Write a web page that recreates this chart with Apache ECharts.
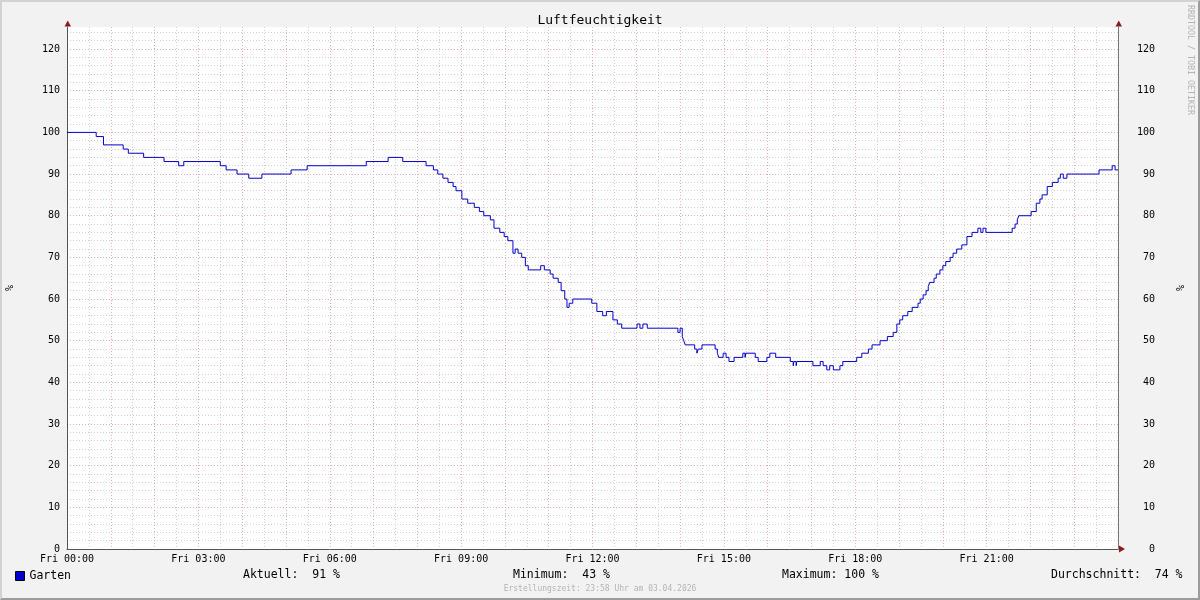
<!DOCTYPE html>
<html>
<head>
<meta charset="utf-8">
<script src="https://cdn.jsdelivr.net/npm/echarts@6/dist/echarts.min.js"></script>
<style>
html,body{margin:0;padding:0;background:#f2f2f2;}
#wrap{position:relative;width:1200px;height:600px;}
#chart{position:absolute;left:0;top:0;width:1200px;height:600px;}
#frame{position:absolute;left:0;top:0;width:1200px;height:600px;box-sizing:border-box;border-style:solid;border-width:2px;border-color:#d2d2d2 #9c9c9c #9c9c9c #d2d2d2;pointer-events:none;}
</style>
</head>
<body>
<div id="wrap"><div id="chart"></div><div id="frame"></div></div>
<script>
// minutes since Fri 00:00 where a new reading starts
const changeMinutes = [
  0, 40, 50, 77, 84, 105, 133, 153, 160, 210, 218, 233, 249, 267, 307, 329, 410, 440, 460, 492,
  502, 508, 515, 522, 529, 533, 541, 549, 558, 565, 571, 580, 585, 593, 599, 604, 611, 614, 618, 623,
  628, 632, 649, 654, 662, 666, 673, 677, 682, 685, 688, 693, 719, 726, 734, 739, 748, 754, 760, 781,
  785, 789, 795, 837, 840, 843, 845, 847, 860, 863, 865, 870, 888, 891, 893, 899, 903, 907, 914, 926,
  929, 930, 943, 947, 959, 963, 971, 991, 995, 996, 999, 1000, 1022, 1032, 1036, 1041, 1045, 1050, 1059, 1063,
  1082, 1089, 1098, 1103, 1114, 1124, 1132, 1137, 1141, 1145, 1152, 1158, 1166, 1169, 1173, 1177, 1180, 1182, 1188, 1191,
  1196, 1200, 1204, 1210, 1214, 1219, 1226, 1233, 1240, 1248, 1252, 1255, 1259, 1295, 1299, 1302, 1304, 1321, 1328, 1333,
  1336, 1343, 1350, 1358, 1361, 1365, 1370, 1414, 1432, 1436, 1440
];
// relative humidity (%) from each change point on
const humidity = [
  100, 99, 97, 96, 95, 94, 93, 92, 93, 92, 91, 90, 89, 90, 91, 92, 93, 94, 93, 92,
  91, 90, 89, 88, 87, 86, 84, 83, 82, 81, 80, 79, 77, 76, 75, 74, 71, 72, 71, 70,
  68, 67, 68, 67, 66, 65, 64, 62, 60, 58, 59, 60, 59, 57, 56, 57, 55, 54, 53, 54,
  53, 54, 53, 52, 53, 51, 50, 49, 48, 47, 48, 49, 48, 47, 46, 47, 46, 45, 46, 47,
  46, 47, 46, 45, 46, 47, 46, 45, 44, 45, 44, 45, 44, 45, 44, 43, 44, 43, 44, 45,
  46, 47, 48, 49, 50, 51, 52, 54, 55, 56, 57, 58, 59, 60, 61, 62, 63, 64, 65, 66,
  67, 68, 69, 70, 71, 72, 73, 75, 76, 77, 76, 77, 76, 77, 78, 79, 80, 81, 83, 84,
  85, 87, 88, 89, 90, 89, 90, 91, 92, 91, 91
];
const xTickLabels = ['Fri 00:00', 'Fri 03:00', 'Fri 06:00', 'Fri 09:00', 'Fri 12:00', 'Fri 15:00', 'Fri 18:00', 'Fri 21:00'];
const yTickValues = [0, 10, 20, 30, 40, 50, 60, 70, 80, 90, 100, 110, 120];
const seriesName = 'Garten';
const statLabels = ['Aktuell:  91 %', 'Minimum:  43 %', 'Maximum: 100 %', 'Durchschnitt:  74 %'];
const titleText = 'Luftfeuchtigkeit';
const footerText = 'Erstellungszeit: 23:58 Uhr am 03.04.2026';
const watermarkText = 'RRDTOOL / TOBI OETIKER';
const unitText = '%';

const FONT = 'DejaVu Sans Mono';
const RED = '#e7b0b0', GRAY = '#d2d2d2';
const Y_MAX = 125.3;

const data = changeMinutes.map((m, i) => [m, humidity[i]]);
const yLabel = v => yTickValues.indexOf(v) >= 0 ? String(v) : '';

const chart = echarts.init(document.getElementById('chart'), null, {renderer: 'canvas'});
const option = {
  backgroundColor: '#f2f2f2',
  animation: false,
  title: {
    text: titleText, left: 'center', top: 9,
    textStyle: {fontFamily: FONT, fontSize: 13, fontWeight: 'normal', color: '#000'}
  },
  legend: {
    data: [seriesName], left: 15, top: 570, padding: 0, icon: 'rect', itemWidth: 9, itemHeight: 9, itemGap: 10,
    itemStyle: {borderColor: '#000', borderWidth: 1},
    textStyle: {fontFamily: FONT, fontSize: 11.5, color: '#000'}
  },
  grid: {left: 67, right: 82, top: 27, bottom: 51, outerBoundsMode: 'none', containLabel: false, show: true, backgroundColor: '#fff', borderWidth: 0},
  xAxis: {
    type: 'value', min: 0, max: 1440, interval: 30,
    axisLine: {show: true, lineStyle: {color: '#555', width: 1}},
    axisTick: {show: false},
    axisLabel: {
      fontFamily: FONT, fontSize: 10, color: '#000', margin: 5, showMaxLabel: true,
      formatter: v => (v % 180 === 0 && v / 180 < xTickLabels.length) ? xTickLabels[v / 180] : ''
    },
    splitLine: {show: true, showMaxLine: false, lineStyle: {color: [RED, GRAY], type: [1, 2], width: 1}}
  },
  yAxis: [{
    type: 'value', min: 0, max: Y_MAX, interval: 2, position: 'left',
    name: unitText, nameLocation: 'middle', nameGap: 52, nameRotate: 90,
    nameTextStyle: {fontFamily: FONT, fontSize: 10, color: '#000'},
    axisLine: {show: true, lineStyle: {color: '#555', width: 1}},
    axisTick: {show: false},
    axisLabel: {fontFamily: FONT, fontSize: 10, color: '#000', margin: 7, showMaxLabel: false, formatter: yLabel},
    splitLine: {show: true, showMaxLine: false, lineStyle: {color: [RED, GRAY, GRAY, GRAY, GRAY], type: [1, 2], width: 1}}
  }, {
    type: 'value', min: 0, max: Y_MAX, interval: 2, position: 'right',
    name: unitText, nameLocation: 'middle', nameGap: 58, nameRotate: 90,
    nameTextStyle: {fontFamily: FONT, fontSize: 10, color: '#000'},
    axisLine: {show: true, lineStyle: {color: '#777', width: 1}},
    axisTick: {show: false},
    axisLabel: {fontFamily: FONT, fontSize: 10, color: '#000', margin: 37, align: 'right', showMaxLabel: false, formatter: yLabel},
    splitLine: {show: false}
  }],
  series: [{
    name: seriesName, type: 'line', step: 'end', data: data, showSymbol: false, symbol: 'none',
    lineStyle: {color: '#0000cc', width: 1}, itemStyle: {color: '#0000cc'}, z: 5
  }]
};
chart.setOption(option);

// decorations: axis arrows, statistics, footer, watermark
const pTopLeft = chart.convertToPixel({gridIndex: 0}, [0, Y_MAX]);
const pTopRight = chart.convertToPixel({gridIndex: 0}, [1440, Y_MAX]);
const pEnd = chart.convertToPixel({gridIndex: 0}, [1440, 0]);
const ARROW = '#8b1c1c';
const upArrow = (x, y) => ({type: 'polygon', shape: {points: [[x - 3, y], [x + 3.5, y], [x + 0.25, y - 6]]}, style: {fill: ARROW}, z: 20});
const legendY = 575;
const statX = [243, 513, 782, 1051];
chart.setOption({
  graphic: [
    upArrow(Math.round(pTopLeft[0]) + 0.5, pTopLeft[1] - 0.5),
    upArrow(Math.round(pTopRight[0]) + 0.5, pTopRight[1] - 0.5),
    {type: 'polygon', shape: {points: [[pEnd[0] + 1, pEnd[1] - 3.5], [pEnd[0] + 1, pEnd[1] + 3.5], [pEnd[0] + 7, pEnd[1]]]}, style: {fill: ARROW}, z: 20},
    ...statLabels.map((t, i) => ({type: 'text', x: statX[i], y: legendY, style: {text: t, font: '11.5px "' + FONT + '"', fill: '#000', verticalAlign: 'middle'}})),
    {type: 'text', x: 600, y: 589, style: {text: footerText, font: '8px "' + FONT + '"', fill: '#b4b4b4', align: 'center', verticalAlign: 'middle'}},
    {type: 'text', x: 1190, y: 5, rotation: -Math.PI / 2, style: {text: watermarkText, font: '8.3px "' + FONT + '"', fill: '#b4b4b4', align: 'left', verticalAlign: 'middle'}}
  ]
});
</script>
</body>
</html>
